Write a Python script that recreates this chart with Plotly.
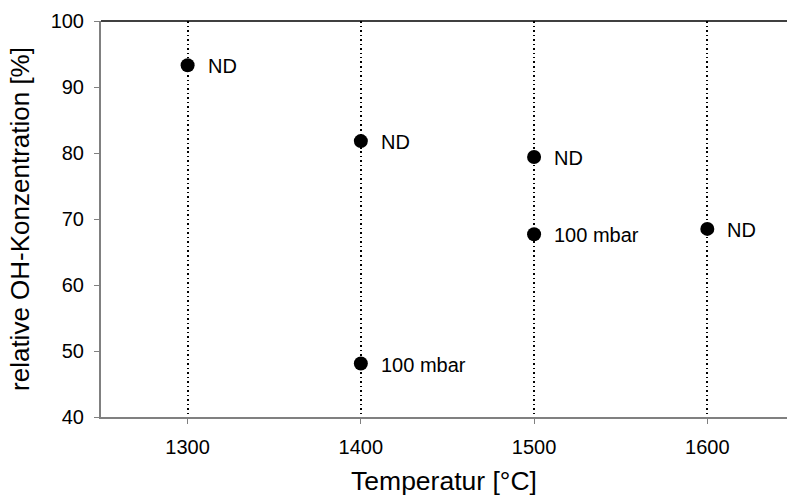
import plotly.graph_objects as go

temps = [1300, 1400, 1400, 1500, 1500, 1600]
oh_conc = [93.3, 81.8, 48.1, 79.4, 67.7, 68.5]
labels = ["ND", "ND", "100 mbar", "ND", "100 mbar", "ND"]
x_ticks = [1300, 1400, 1500, 1600]
y_ticks = [40, 50, 60, 70, 80, 90, 100]

FONT = "Liberation Sans, Arial, sans-serif"

fig = go.Figure()
fig.add_trace(go.Scatter(
    x=temps, y=oh_conc, mode="markers",
    marker=dict(color="black", size=14),
    showlegend=False, cliponaxis=False,
))

for xv, yv, t in zip(temps, oh_conc, labels):
    fig.add_annotation(x=xv, y=yv, text=t, showarrow=False,
                       xanchor="left", yanchor="middle", xshift=18, yshift=-1,
                       font=dict(family=FONT, size=20, color="black"))

fig.add_shape(type="line", xref="paper", yref="paper", x0=0, x1=1, y0=1, y1=1,
              line=dict(color="black", width=1.5))

fig.update_layout(
    width=787, height=498,
    margin=dict(l=101, r=0, t=21, b=81),
    plot_bgcolor="white", paper_bgcolor="white",
    font=dict(family=FONT, size=20, color="black"),
    xaxis=dict(
        range=[1250, 1646], tickvals=x_ticks,
        showgrid=True, gridcolor="black", griddash="1.5px,3px", gridwidth=1.5,
        showline=True, linecolor="#808080", linewidth=2,
        ticks="outside", ticklen=5, tickcolor="#808080",
        ticklabelstandoff=6,
        zeroline=False,
        title=dict(text="Temperatur [°C]", font=dict(size=26.5), standoff=14),
    ),
    yaxis=dict(
        range=[40, 100], tickvals=y_ticks,
        showgrid=False,
        showline=True, linecolor="#808080", linewidth=2,
        ticks="outside", ticklen=5, tickcolor="#808080",
        ticklabelstandoff=6,
        zeroline=False,
        title=dict(text="relative OH-Konzentration [%]", font=dict(size=26), standoff=14),
    ),
)

fig.write_html("out.html")
